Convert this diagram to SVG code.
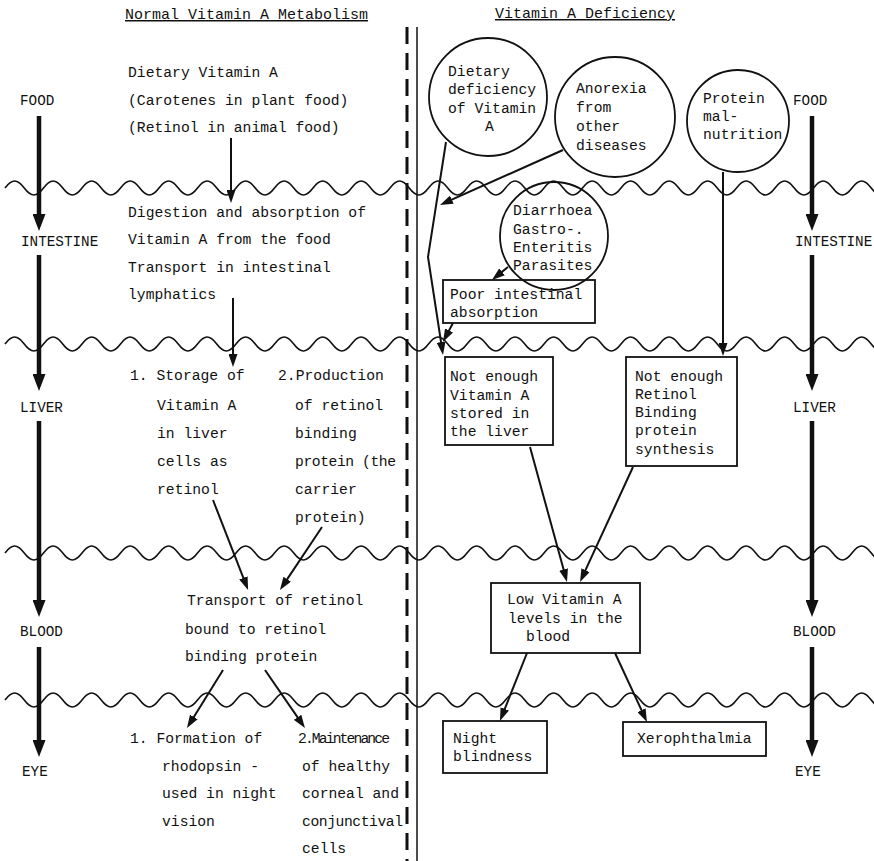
<svg xmlns="http://www.w3.org/2000/svg" width="874" height="861" viewBox="0 0 874 861">
<style>
text{font-family:"Liberation Mono","DejaVu Sans Mono",monospace;font-size:14.7px;fill:#111}
.lbl{font-size:14.3px}
.ttl{font-size:15px;text-decoration:underline}
.box{fill:none;stroke:#111;stroke-width:1.8}
.wave{fill:none;stroke:#111;stroke-width:1.6}
.thin{fill:none;stroke:#111;stroke-width:2;marker-end:url(#ah)}
.bold{fill:none;stroke:#111;stroke-width:4.5;marker-end:url(#bh)}
</style>
<defs>
<marker id="ah" markerUnits="userSpaceOnUse" markerWidth="13" markerHeight="9" refX="5" refY="4.5" orient="auto" viewBox="0 0 13 9"><path d="M0,0 L13,4.5 L0,9 z" fill="#111"/></marker>
<marker id="bh" markerUnits="userSpaceOnUse" markerWidth="17" markerHeight="13" refX="8" refY="6.5" orient="auto" viewBox="0 0 17 13"><path d="M0,0 L17,6.5 L0,13 z" fill="#111"/></marker>
<path id="wave" d="M5,0 c7,-9.3 12.25,-9.3 19.25,0 s12.25,9.3 19.25,0 s12.25,-9.3 19.25,0 s12.25,9.3 19.25,0 s12.25,-9.3 19.25,0 s12.25,9.3 19.25,0 s12.25,-9.3 19.25,0 s12.25,9.3 19.25,0 s12.25,-9.3 19.25,0 s12.25,9.3 19.25,0 s12.25,-9.3 19.25,0 s12.25,9.3 19.25,0 s12.25,-9.3 19.25,0 s12.25,9.3 19.25,0 s12.25,-9.3 19.25,0 s12.25,9.3 19.25,0 s12.25,-9.3 19.25,0 s12.25,9.3 19.25,0 s12.25,-9.3 19.25,0 s12.25,9.3 19.25,0 s12.25,-9.3 19.25,0 s12.25,9.3 19.25,0 s12.25,-9.3 19.25,0 s12.25,9.3 19.25,0 s12.25,-9.3 19.25,0 s12.25,9.3 19.25,0 s12.25,-9.3 19.25,0 s12.25,9.3 19.25,0 s12.25,-9.3 19.25,0 s12.25,9.3 19.25,0 s12.25,-9.3 19.25,0 s12.25,9.3 19.25,0 s12.25,-9.3 19.25,0 s12.25,9.3 19.25,0 s12.25,-9.3 19.25,0 s12.25,9.3 19.25,0 s12.25,-9.3 19.25,0 s12.25,9.3 19.25,0 s12.25,-9.3 19.25,0 s12.25,9.3 19.25,0 s12.25,-9.3 19.25,0 s12.25,9.3 19.25,0 s12.25,-9.3 19.25,0 s12.25,9.3 19.25,0 s12.25,-9.3 19.25,0 s12.25,9.3 19.25,0 s12.25,-9.3 19.25,0"/>
</defs>
<rect width="874" height="861" fill="#fff"/>

<g id="boundaries">
<use href="#wave" class="wave" y="188"/>
<use href="#wave" class="wave" y="344"/>
<use href="#wave" class="wave" y="553"/>
<use href="#wave" class="wave" y="700"/>
<line x1="407" y1="27" x2="407" y2="861" stroke="#111" stroke-width="3" stroke-dasharray="17 9"/>
<line x1="417" y1="27" x2="417" y2="861" stroke="#111" stroke-width="1.5"/>
</g>

<g id="titles">
<text class="ttl" x="125" y="19">Normal Vitamin A Metabolism</text>
<text class="ttl" x="495" y="18">Vitamin A Deficiency</text>
</g>

<g id="stage-labels-left">
<text class="lbl" x="20" y="105">FOOD</text>
<text class="lbl" x="21" y="246">INTESTINE</text>
<text class="lbl" x="20" y="412">LIVER</text>
<text class="lbl" x="20" y="636">BLOOD</text>
<text class="lbl" x="22" y="776">EYE</text>
</g>
<g id="stage-labels-right">
<text class="lbl" x="793" y="105">FOOD</text>
<text class="lbl" x="795" y="246">INTESTINE</text>
<text class="lbl" x="793" y="412">LIVER</text>
<text class="lbl" x="793" y="636">BLOOD</text>
<text class="lbl" x="795" y="776">EYE</text>
</g>

<g id="n-dietary">
<text x="128" y="77">Dietary Vitamin A</text>
<text x="128" y="105">(Carotenes in plant food)</text>
<text x="128" y="132">(Retinol in animal food)</text>
</g>
<g id="n-digestion">
<text x="128" y="217">Digestion and absorption of</text>
<text x="128" y="244">Vitamin A from the food</text>
<text x="128" y="272">Transport in intestinal</text>
<text x="128" y="299">lymphatics</text>
</g>
<g id="n-storage">
<text x="130" y="380">1. Storage of</text>
<text x="157" y="410">Vitamin A</text>
<text x="157" y="438">in liver</text>
<text x="157" y="466">cells as</text>
<text x="157" y="494">retinol</text>
</g>
<g id="n-production">
<text x="278" y="380">2.Production</text>
<text x="295" y="410">of retinol</text>
<text x="295" y="438">binding</text>
<text x="295" y="466" textLength="101" lengthAdjust="spacing">protein (the</text>
<text x="295" y="494">carrier</text>
<text x="295" y="522">protein)</text>
</g>
<g id="n-transport">
<text x="187" y="605">Transport of retinol</text>
<text x="185" y="634">bound to retinol</text>
<text x="185" y="661">binding protein</text>
</g>
<g id="n-rhodopsin">
<text x="130" y="743">1. Formation of</text>
<text x="162" y="771">rhodopsin -</text>
<text x="162" y="798">used in night</text>
<text x="162" y="826">vision</text>
</g>
<g id="n-maintenance">
<text x="298" y="743" font-size="14" textLength="92" lengthAdjust="spacing">2.Maintenance</text>
<text x="302" y="771">of healthy</text>
<text x="302" y="798">corneal and</text>
<text x="302" y="826" textLength="101" lengthAdjust="spacing">conjunctival</text>
<text x="302" y="853">cells</text>
</g>

<g id="n-dietary-deficiency">
<circle class="box" cx="488" cy="97" r="59"/>
<text x="448" y="76">Dietary</text>
<text x="448" y="94">deficiency</text>
<text x="448" y="113">of Vitamin</text>
<text x="485" y="131">A</text>
</g>
<g id="n-anorexia">
<circle class="box" cx="615" cy="117" r="60"/>
<text x="576" y="93">Anorexia</text>
<text x="576" y="112">from</text>
<text x="576" y="131">other</text>
<text x="576" y="150">diseases</text>
</g>
<g id="n-protein">
<circle class="box" cx="738" cy="121" r="51"/>
<text x="703" y="103">Protein</text>
<text x="703" y="121">mal-</text>
<text x="703" y="139">nutrition</text>
</g>
<g id="n-diarrhoea">
<circle class="box" cx="554" cy="236" r="54"/>
<text x="513" y="215">Diarrhoea</text>
<text x="513" y="234">Gastro-.</text>
<text x="513" y="252">Enteritis</text>
<text x="513" y="270">Parasites</text>
</g>
<g id="n-poor-absorption">
<rect class="box" x="443" y="280" width="152" height="43"/>
<text x="450" y="299">Poor intestinal</text>
<text x="450" y="317">absorption</text>
</g>
<g id="n-not-stored">
<rect class="box" x="445" y="357" width="108" height="88"/>
<text x="450" y="381">Not enough</text>
<text x="450" y="400">Vitamin A</text>
<text x="450" y="418">stored in</text>
<text x="450" y="436">the liver</text>
</g>
<g id="n-not-rbp">
<rect class="box" x="626" y="357" width="111" height="109"/>
<text x="635" y="381">Not enough</text>
<text x="635" y="399">Retinol</text>
<text x="635" y="417">Binding</text>
<text x="635" y="435">protein</text>
<text x="635" y="454">synthesis</text>
</g>
<g id="n-low-blood">
<rect class="box" x="491" y="583" width="149" height="70"/>
<text x="507" y="604">Low Vitamin A</text>
<text x="508" y="623">levels in the</text>
<text x="526" y="641">blood</text>
</g>
<g id="n-night-blindness">
<rect class="box" x="443" y="721" width="104" height="52"/>
<text x="453" y="743">Night</text>
<text x="453" y="761">blindness</text>
</g>
<g id="n-xerophthalmia">
<rect class="box" x="623" y="722" width="143" height="34"/>
<text x="637" y="743">Xerophthalmia</text>
</g>

<g id="connectors">
<line class="bold" x1="39" y1="116" x2="39" y2="222"/>
<line class="bold" x1="39" y1="255" x2="39" y2="382"/>
<line class="bold" x1="39" y1="421" x2="39" y2="608"/>
<line class="bold" x1="39" y1="647" x2="39" y2="748"/>
<line class="bold" x1="812" y1="116" x2="812" y2="222"/>
<line class="bold" x1="812" y1="255" x2="812" y2="382"/>
<line class="bold" x1="812" y1="421" x2="812" y2="608"/>
<line class="bold" x1="812" y1="647" x2="812" y2="748"/>

<line class="thin" x1="231" y1="138" x2="231" y2="195"/>
<line class="thin" x1="233" y1="298" x2="233" y2="359"/>
<line class="thin" x1="213" y1="500" x2="245.2" y2="582.6"/>
<line class="thin" x1="322" y1="527" x2="284.4" y2="583.4"/>
<line class="thin" x1="223" y1="670" x2="191.2" y2="721.2"/>
<line class="thin" x1="265" y1="670" x2="300.4" y2="721.4"/>

<line class="thin" x1="563" y1="150" x2="447.3" y2="201.7"/>
<line class="thin" x1="508" y1="267" x2="498.2" y2="274.9"/>
<polyline class="thin" points="446,142 428,257 441.8,347"/>
<line class="thin" x1="453" y1="323" x2="446.7" y2="334.9"/>
<line class="thin" x1="723" y1="172" x2="723" y2="348"/>
<line class="thin" x1="530" y1="447" x2="564.9" y2="574.3"/>
<line class="thin" x1="633" y1="467" x2="583.4" y2="574.7"/>
<line class="thin" x1="527" y1="653" x2="502.9" y2="713.6"/>
<line class="thin" x1="615" y1="653" x2="643.6" y2="714.7"/>
</g>
</svg>
